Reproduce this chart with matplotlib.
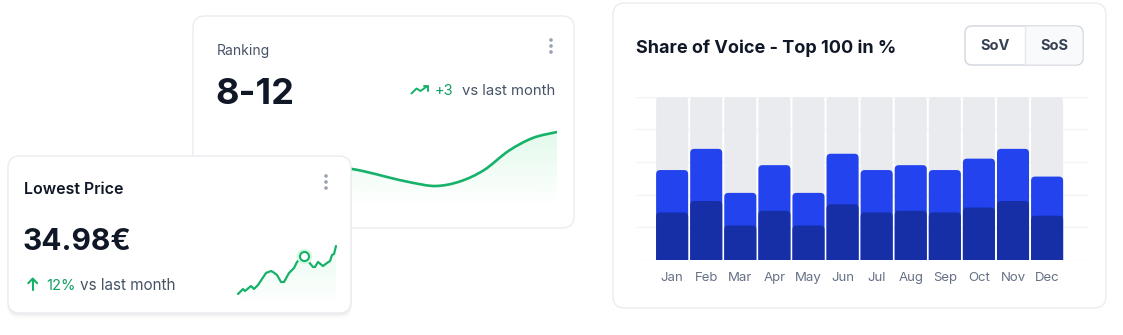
import matplotlib
matplotlib.use('Agg')
import matplotlib.pyplot as plt
import numpy as np
from matplotlib.patches import FancyBboxPatch, Rectangle, Circle, PathPatch
from matplotlib.path import Path

plt.rcParams['font.family'] = ['Inter', 'DejaVu Sans']

W, H = 1123, 335

# --- data ---
months = ['Jan', 'Feb', 'Mar', 'Apr', 'May', 'Jun',
          'Jul', 'Aug', 'Sep', 'Oct', 'Nov', 'Dec']
sov_total = [55, 68, 41, 58, 41, 65, 55, 58, 55, 62, 68, 51]
sov_top = [29, 36, 21, 30, 21, 34, 29, 30, 29, 32, 36, 27]

ranking_curve = [46, 46, 45, 45, 44, 43, 39, 33, 27.5, 24, 28.5, 40, 59, 72, 78]

price_x = [0, 5, 7, 13, 16, 20, 28, 33, 35, 39, 43, 46, 51, 56,
           59, 62, 66, 70, 75, 77, 80, 85, 89, 92, 94, 96, 98]
price_y = [6, 11, 9, 14, 11, 15, 27, 29, 28, 25, 18, 18, 27, 32,
           38, 41, 44, 39, 33, 33, 38, 34, 37, 39, 45, 46, 54]
price_marker = 16

GREEN = '#17B26A'
GREEN_TXT = '#12A063'
DARK = '#101828'
GREY_TXT = '#475467'
BORDER = '#EAECF0'


def px_axes(x0, y0, x1, y1, z):
    ax = fig.add_axes([x0 / W, 1 - y1 / H, (x1 - x0) / W, (y1 - y0) / H], zorder=z)
    return ax


def overlay(z):
    ax = fig.add_axes([0, 0, 1, 1], zorder=z)
    ax.set_xlim(0, W)
    ax.set_ylim(H, 0)
    ax.axis('off')
    ax.patch.set_alpha(0)
    return ax


def card(ax, x0, y0, x1, y1, r=12, shadow=False):
    if shadow:
        for i, a in enumerate([0.05, 0.035, 0.02]):
            ax.add_patch(FancyBboxPatch((x0 - i * 0.5, y0 + 1 + i), x1 - x0 + i, y1 - y0 + i,
                                        boxstyle=f"round,pad=0,rounding_size={r}",
                                        fc='#101828', ec='none', alpha=a))
    ax.add_patch(FancyBboxPatch((x0, y0), x1 - x0, y1 - y0,
                                boxstyle=f"round,pad=0,rounding_size={r}",
                                fc='white', ec=BORDER, lw=1.0))


def menu_dots(ax, x, y):
    for dy in (-6, 0, 6):
        ax.add_patch(Circle((x, y + dy), 1.8, fc='#98A2B3', ec='none'))


def smooth_path(x, y):
    # Catmull-Rom through the read points, drawn as cubic Bezier segments
    p = np.column_stack([x, y]).astype(float)
    p = np.vstack([p[0], p, p[-1]])
    verts = [p[1]]
    codes = [Path.MOVETO]
    for i in range(1, len(p) - 2):
        c1 = p[i] + (p[i + 1] - p[i - 1]) / 6
        c2 = p[i + 1] - (p[i + 2] - p[i]) / 6
        verts += [c1, c2, p[i + 1]]
        codes += [Path.CURVE4] * 3
    return verts, codes


def gradient_fill(ax, x, y, ymin, alpha_top, verts=None, codes=None):
    if verts is None:
        verts = list(zip(x, y))
        codes = [Path.MOVETO] + [Path.LINETO] * (len(verts) - 1)
    v = list(verts) + [(x[-1], ymin), (x[0], ymin), (x[0], ymin)]
    c = list(codes) + [Path.LINETO, Path.LINETO, Path.CLOSEPOLY]
    clip = PathPatch(Path(v, c), fc='none', ec='none', transform=ax.transData)
    grad = np.zeros((100, 2, 4))
    grad[..., :3] = matplotlib.colors.to_rgb('#4ADE80')
    grad[..., 3] = np.linspace(0, alpha_top, 100)[:, None]
    im = ax.imshow(grad, extent=[min(x), max(x), ymin, max(y)], aspect='auto',
                   origin='lower', zorder=1, interpolation='bilinear')
    im.set_clip_path(clip)


fig = plt.figure(figsize=(W / 100, H / 100), dpi=100)
fig.patch.set_facecolor('white')

# ---------- Ranking card ----------
bg = overlay(0)
card(bg, 193, 16, 574, 228)
bg.text(217, 55, 'Ranking', fontsize=10, color=GREY_TXT, va='baseline')
bg.text(215, 104, '8-12', fontsize=26, fontweight='bold', color=DARK, va='baseline')
menu_dots(bg, 551, 46)
# trend-up icon
bg.plot([411.5, 416.5, 420.5, 427.5], [93.5, 88.5, 91, 86], color=GREEN, lw=1.4,
        solid_capstyle='round', solid_joinstyle='round')
bg.plot([423.5, 428, 428], [86, 86, 90.5], color=GREEN, lw=1.4,
        solid_capstyle='round', solid_joinstyle='round')
bg.text(435, 95, '+3', fontsize=10.5, color=GREEN_TXT, va='baseline')
bg.text(462, 95, 'vs last month', fontsize=10.7, color=GREY_TXT, va='baseline')

ax_rank = px_axes(217, 120, 557, 210, 1)
rx = np.arange(len(ranking_curve))
ax_rank.set_xlim(0, len(ranking_curve) - 1)
ax_rank.set_ylim(0, 90)
ax_rank.axis('off')
ax_rank.patch.set_alpha(0)
rv, rc = smooth_path(rx, ranking_curve)
gradient_fill(ax_rank, rx, ranking_curve, 5, 0.16, rv, rc)
ax_rank.add_patch(PathPatch(Path(rv, rc), fc='none', ec=GREEN, lw=1.9,
                            capstyle='butt', zorder=3))

# ---------- Lowest price card ----------
fg = overlay(2)
card(fg, 8, 156, 351, 313, shadow=True)
fg.text(24, 194, 'Lowest Price', fontsize=11.5, fontweight='semibold', color=DARK, va='baseline')
fg.text(23, 250, '34.98€', fontsize=21.5, fontweight='bold', color=DARK, va='baseline')
menu_dots(fg, 326, 182)
fg.plot([32.7, 32.7], [290, 278.8], color=GREEN, lw=1.5, solid_capstyle='round')
fg.plot([28.3, 32.7, 37.1], [283.2, 278.6, 283.2], color=GREEN, lw=1.5,
        solid_capstyle='round', solid_joinstyle='round')
fg.text(46, 290, '12%', fontsize=10.6, color=GREEN_TXT, va='baseline')
fg.text(80, 290, 'vs last month', fontsize=11, color=GREY_TXT, va='baseline')

ax_price = px_axes(238, 240, 336, 300, 3)
ax_price.set_xlim(0, 98)
ax_price.set_ylim(0, 60)
ax_price.axis('off')
ax_price.patch.set_alpha(0)
gradient_fill(ax_price, price_x, price_y, -6, 0.12)
ax_price.plot(price_x, price_y, color=GREEN, lw=1.6, solid_joinstyle='round',
              solid_capstyle='round', zorder=3, clip_on=False)
ax_price.plot(price_x[price_marker], price_y[price_marker], 'o', ms=11,
              mfc='#D1FADF', mec='none', zorder=4, clip_on=False)
ax_price.plot(price_x[price_marker], price_y[price_marker], 'o', ms=6.5,
              mfc='white', mec=GREEN, mew=1.5, zorder=5, clip_on=False)

# ---------- Share of Voice card ----------
card(bg, 613, 3, 1106, 308)
bg.text(636, 53, 'Share of Voice - Top 100 in %', fontsize=13, fontweight='bold',
        color=DARK, va='baseline')
# toggle
bg.add_patch(FancyBboxPatch((965, 26), 118, 39, boxstyle="round,pad=0,rounding_size=7",
                            fc='white', ec='#D0D5DD', lw=1.0, zorder=2))
sos_bg = Rectangle((1025, 26), 58, 39, fc='#F9FAFB', ec='none', zorder=2.1)
bg.add_patch(sos_bg)
clip = FancyBboxPatch((965.5, 26.5), 117, 38, boxstyle="round,pad=0,rounding_size=7",
                      fc='none', ec='none', transform=bg.transData)
sos_bg.set_clip_path(clip)
bg.plot([1025, 1025], [26, 65], color='#E4E7EC', lw=1.0, zorder=2.2)
bg.text(995, 46, 'SoV', fontsize=10.5, fontweight='bold', color='#344054',
        ha='center', va='center', zorder=3)
bg.text(1054, 46, 'SoS', fontsize=10.5, fontweight='bold', color='#344054',
        ha='center', va='center', zorder=3)

ax_bar = px_axes(636, 96.7, 1088, 259.7, 1)
xb = np.arange(len(months))
ax_bar.set_xlim(-1.06, 12.2)
ax_bar.set_ylim(0, 100)
for s in ax_bar.spines.values():
    s.set_visible(False)
ax_bar.patch.set_alpha(0)
for g in range(0, 101, 20):
    ax_bar.axhline(g, color='#F2F4F7', lw=1.0, zorder=0)
bw = 0.94
rx_data = 0.12
aspect = 2.5 / rx_data


def rbar(x, top, color, z):
    ax_bar.add_patch(FancyBboxPatch((x - bw / 2, -10), bw, top + 10,
                                    boxstyle=f"round,pad=0,rounding_size={rx_data}",
                                    mutation_aspect=aspect, fc=color, ec='none', zorder=z))


for i in range(len(months)):
    rbar(xb[i], 100, '#EAEBEF', 1)
    rbar(xb[i], sov_total[i], '#2243EE', 2)
    rbar(xb[i], sov_top[i], '#162FA7', 3)

ax_bar.set_yticks([])
ax_bar.set_xticks(xb)
ax_bar.set_xticklabels(months, fontsize=9.5, color='#667085')
ax_bar.tick_params(axis='x', length=0, pad=9)

fig.savefig('out.png', dpi=100, facecolor='white')
